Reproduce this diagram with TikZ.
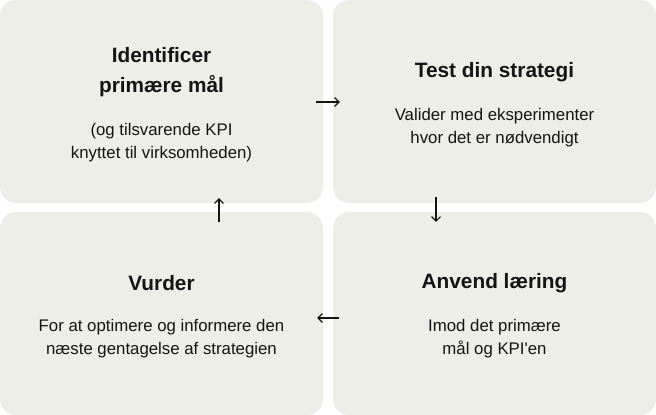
\documentclass[tikz,border=0pt]{standalone}
\usepackage{fontspec}
\setmainfont{Liberation Sans}
\usepackage{tikz}
\usetikzlibrary{arrows,arrows.meta,positioning}
\usepackage{xcolor}
\definecolor{cardgray}{RGB}{238,238,232}
\definecolor{inkblack}{RGB}{20,20,20}
\tikzstyle{card} = [rectangle, rounded corners=16pt, minimum width=323pt, minimum height=203pt, fill=cardgray, inner sep=0pt]
\tikzstyle{heading} = [font=\fontsize{20.8}{30}\selectfont\bfseries, align=center, text=inkblack, inner sep=0pt]
\tikzstyle{body} = [font=\fontsize{16.8}{22.5}\selectfont, align=center, text=inkblack, inner sep=0pt]
\tikzstyle{arrow} = [line width=1.1pt,-{Straight Barb[length=4.5pt,width=9pt]},color=inkblack]

\begin{document}
\begin{tikzpicture}
\useasboundingbox (0,0) rectangle (656pt,-415pt);
% Cards
\node (ident) [card] at (161.5pt,-101.5pt) {};
\node (test) [card] at (494.5pt,-101.5pt) {};
\node (vurder) [card] at (161.5pt,-313.5pt) {};
\node (anvend) [card] at (494.5pt,-313.5pt) {};

% Texts
\node (identT) [heading] at ([yshift=29pt]ident.center) {Identificer\\primære mål};
\node (identB) [body] at ([yshift=-41pt]ident.center) {(og tilsvarende KPI\\knyttet til virksomheden)};
\node (testT) [heading] at ([yshift=29pt]test.center) {Test din strategi};
\node (testB) [body] at ([yshift=-26pt]test.center) {Valider med eksperimenter\\hvor det er nødvendigt};
\node (anvendT) [heading] at ([yshift=30pt]anvend.center) {Anvend læring};
\node (anvendB) [body] at ([yshift=-25pt]anvend.center) {Imod det primære\\mål og KPI\textquotesingle en};
\node (vurderT) [heading] at ([yshift=30pt]vurder.center) {Vurder};
\node (vurderB) [body] at ([yshift=-25pt]vurder.center) {For at optimere og informere den\\næste gentagelse af strategien};

% Arrows
\draw[arrow] ([xshift=-7pt,yshift=-0.5pt]ident.east) -- ([xshift=7pt,yshift=-0.5pt]test.west);
\draw[arrow] ([xshift=-58.5pt,yshift=6pt]test.south) -- ([xshift=-58.5pt,yshift=-10pt]anvend.north);
\draw[arrow] ([xshift=6pt,yshift=-4.5pt]anvend.west) -- ([xshift=-6pt,yshift=-4.5pt]vurder.east);
\draw[arrow] ([xshift=57.5pt,yshift=-10pt]vurder.north) -- ([xshift=57.5pt,yshift=5pt]ident.south);
\end{tikzpicture}
\end{document}
